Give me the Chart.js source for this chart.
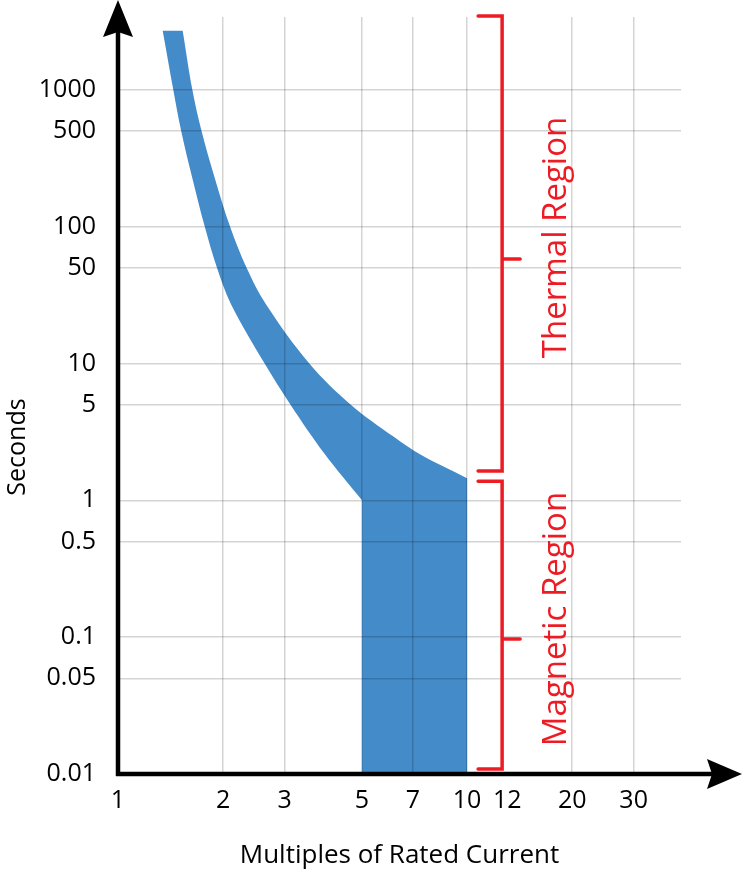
<!DOCTYPE html>
<html>
<head>
<meta charset="utf-8">
<script src="https://cdn.jsdelivr.net/npm/chart.js@4.4.1/dist/chart.umd.min.js"></script>
<style>
  html, body { margin: 0; padding: 0; background: #fff; }
  canvas { display: block; }
</style>
</head>
<body>
<canvas id="tripChart" width="742" height="874"></canvas>
<script>
// axis tick labels
const currentTicks = [1, 2, 3, 5, 7, 10, 12, 20, 30];
const secondTicks = [0.01, 0.05, 0.1, 0.5, 1, 5, 10, 50, 100, 500, 1000];

// fast edge of the trip band (left/lower curve), top -> bottom
const lowerCurveX = [1.343, 1.44, 1.517, 1.633, 1.772, 1.921, 2.109, 2.63, 3.12, 3.90, 5];
const lowerCurveY = [2700, 1000, 500, 226, 100, 50, 27, 10, 5, 2.2, 1];

// slow edge of the trip band (right/upper curve), top -> bottom
const upperCurveX = [1.532, 1.633, 1.735, 1.894, 2.094, 2.335, 2.656, 3.533, 4.644, 6.166, 7.392, 10];
const upperCurveY = [2700, 1000, 500, 226, 100, 50, 27, 10, 5, 2.91, 2.14, 1.45];

// instantaneous (magnetic) trip window, multiples of rated current
const magneticTripX = [5, 10];

// region brackets (seconds) and where they stand on the current axis
const thermalRange = [1.64, 3400];
const magneticRange = [0.0109, 1.38];
const regionTicks = [58, 0.097];
const bracketCurrent = 12.6;

const bandColor = '#448BCA';
const red = '#ED1C24';
const fontFamily = '"Open Sans", "DejaVu Sans", sans-serif';

// outline of the band: fast curve down, across the magnetic window, slow curve back up.
// corner points are pushed twice so the spline keeps them sharp
const bandOutline = [];
lowerCurveX.forEach((x, i) => bandOutline.push({ x: x, y: lowerCurveY[i] }));
const corners = [
    { x: magneticTripX[0], y: lowerCurveY[lowerCurveY.length - 1] },
    { x: magneticTripX[0], y: secondTicks[0] },
    { x: magneticTripX[1], y: secondTicks[0] },
    { x: magneticTripX[1], y: upperCurveY[upperCurveY.length - 1] }
];
bandOutline.pop();
corners.forEach(p => { bandOutline.push(p); bandOutline.push({ x: p.x, y: p.y }); });
for (let i = upperCurveX.length - 2; i >= 0; i--) {
    bandOutline.push({ x: upperCurveX[i], y: upperCurveY[i] });
}

function vText(ctx, text, x, y) {
    ctx.save();
    ctx.translate(x, y);
    ctx.rotate(-Math.PI / 2);
    ctx.textAlign = 'center';
    ctx.textBaseline = 'alphabetic';
    ctx.fillText(text, 0, 0);
    ctx.restore();
}

function bracket(ctx, x, yTop, yBottom, yTick) {
    ctx.beginPath();
    ctx.moveTo(x - 24, yTop);
    ctx.lineTo(x, yTop);
    ctx.lineTo(x, yBottom);
    ctx.lineTo(x - 24, yBottom);
    ctx.moveTo(x, yTick);
    ctx.lineTo(x + 18, yTick);
    ctx.stroke();
}

const decorations = {
    id: 'decorations',
    afterDraw(chart) {
        const { ctx, chartArea: a, scales } = chart;
        const x = scales.x, y = scales.y;
        ctx.save();

        // axes with arrow heads
        ctx.strokeStyle = '#000';
        ctx.fillStyle = '#000';
        ctx.lineWidth = 4.5;
        ctx.beginPath();
        ctx.moveTo(a.left, a.bottom + 2);
        ctx.lineTo(a.left, 30);
        ctx.moveTo(a.left - 2, a.bottom);
        ctx.lineTo(712, a.bottom);
        ctx.stroke();
        ctx.beginPath();
        ctx.moveTo(a.left, 0);
        ctx.lineTo(a.left + 15, 37);
        ctx.lineTo(a.left, 32);
        ctx.lineTo(a.left - 15, 37);
        ctx.closePath();
        ctx.fill();
        ctx.beginPath();
        ctx.moveTo(742, a.bottom);
        ctx.lineTo(707, a.bottom - 15);
        ctx.lineTo(712, a.bottom);
        ctx.lineTo(707, a.bottom + 15);
        ctx.closePath();
        ctx.fill();

        // y axis title
        ctx.font = '25px ' + fontFamily;
        vText(ctx, 'Seconds', 25, 447);

        // region brackets
        const bx = x.getPixelForValue(bracketCurrent);
        ctx.strokeStyle = red;
        ctx.fillStyle = red;
        ctx.lineWidth = 3.5;
        ctx.lineCap = 'round';
        ctx.lineJoin = 'miter';
        const tTop = Math.min(y.getPixelForValue(thermalRange[1]), a.top) - 1;
        const tBot = y.getPixelForValue(thermalRange[0]);
        const mTop = y.getPixelForValue(magneticRange[1]);
        const mBot = y.getPixelForValue(magneticRange[0]);
        bracket(ctx, bx, tTop, tBot, y.getPixelForValue(regionTicks[0]));
        bracket(ctx, bx, mTop, mBot, y.getPixelForValue(regionTicks[1]));

        ctx.font = '33px ' + fontFamily;
        vText(ctx, 'Thermal Region', bx + 64, (tTop + tBot) / 2 - 6);
        vText(ctx, 'Magnetic Region', bx + 64, (mTop + mBot) / 2 - 6);
        ctx.restore();
    }
};

const tickFont = { family: fontFamily, size: 25 };
const gridColor = 'rgba(0, 0, 0, 0.17)';

new Chart(document.getElementById('tripChart').getContext('2d'), {
    type: 'line',
    data: {
        datasets: [{
            label: 'Trip band',
            data: bandOutline,
            fill: 'shape',
            backgroundColor: bandColor,
            borderColor: 'transparent',
            borderWidth: 0,
            pointRadius: 0,
            tension: 0.35
        }]
    },
    options: {
        responsive: false,
        devicePixelRatio: 1,
        animation: false,
        layout: { padding: { left: 0, top: 17, right: 61, bottom: 0 } },
        plugins: { legend: { display: false }, tooltip: { enabled: false } },
        scales: {
            x: {
                type: 'logarithmic',
                min: 1,
                max: 41,
                afterBuildTicks: s => { s.ticks = currentTicks.map(v => ({ value: v })); },
                afterFit: s => { s.height = 100; },
                ticks: {
                    autoSkip: false, maxRotation: 0, padding: 12, color: '#000', font: tickFont,
                    // 10 and 12 sit close together; nudge the 12 a little right as in the original
                    callback: v => v === 12 ? '\u2002\u2002' + v : String(v)
                },
                grid: {
                    z: 1, drawTicks: false, lineWidth: 1.5,
                    color: c => (c.tick && (c.tick.value === 1 || c.tick.value === 12)) ? 'transparent' : gridColor
                },
                border: { display: false },
                title: {
                    display: true, text: 'Multiples of Rated Current', color: '#000',
                    font: { family: fontFamily, size: 26 },
                    padding: { top: 0, bottom: 3 }
                }
            },
            y: {
                type: 'logarithmic',
                min: 0.01,
                max: 3400,
                afterBuildTicks: s => { s.ticks = secondTicks.map(v => ({ value: v })); },
                afterFit: s => { s.width = 118; },
                ticks: {
                    autoSkip: false, padding: 2, color: '#000', font: tickFont,
                    callback: v => String(v)
                },
                grid: {
                    z: 1, drawTicks: true, tickLength: 20, tickColor: 'transparent', lineWidth: 1.5,
                    color: c => (c.tick && c.tick.value === 0.01) ? 'transparent' : gridColor
                },
                border: { display: false },
                title: { display: false }
            }
        }
    },
    plugins: [decorations]
});
</script>
</body>
</html>
